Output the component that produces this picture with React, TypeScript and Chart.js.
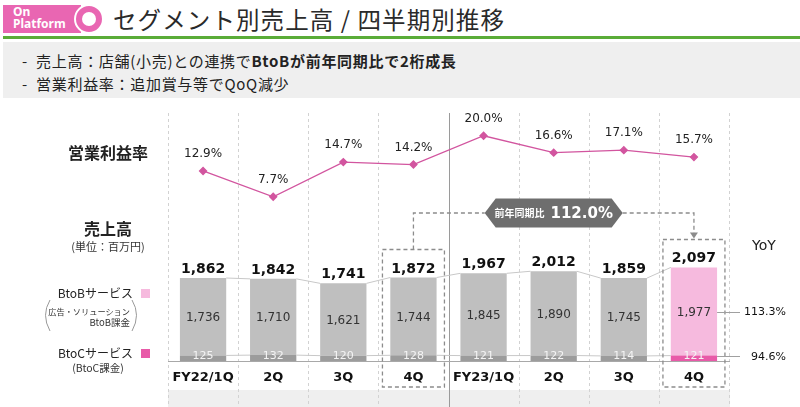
import React, { useEffect, useRef } from 'react';
import { Chart, registerables } from 'chart.js';
Chart.register(...registerables);

const categories = ['FY22/1Q', '2Q', '3Q', '4Q', 'FY23/1Q', '2Q', '3Q', '4Q'];
const btobValues = [1736, 1710, 1621, 1744, 1845, 1890, 1745, 1977];
const btocValues = [125, 132, 120, 128, 121, 122, 114, 121];
const totalValues = [1862, 1842, 1741, 1872, 1967, 2012, 1859, 2097];
const marginValues = [12.9, 7.7, 14.7, 14.2, 20.0, 16.6, 17.1, 15.7];
const yoyBtoB = '113.3%';
const yoyBtoC = '94.6%';
const yoyTotal = '112.0%';
const yoyTotalCaption = '前年同期比';

const NUM_FONT = '"DejaVu Sans", Verdana, sans-serif';
const JP_FONT = '"Noto Sans CJK JP", "Noto Sans", sans-serif';
const PINK_LIGHT = '#f6bade';
const PINK_DARK = '#e85aa8';
const GRAY_LIGHT = '#bfbfbf';
const GRAY_DARK = '#9c9c9c';

const fmt = (n: number) => n.toLocaleString('en-US');

const overlayPlugin = {
  id: 'overlay',
  beforeDatasetsDraw(chart: any) {
    const { ctx, chartArea } = chart;
    const { left, right, top } = chartArea;
    const n = categories.length;
    const step = (right - left) / n;
    ctx.save();
    ctx.fillStyle = '#efefef';
    ctx.fillRect(left, 390, right - left + 1, chart.height - 390);
    for (let k = 0; k <= n; k++) {
      const gx = Math.round(left + k * step) + 0.5;
      ctx.beginPath();
      if (k === 4) {
        ctx.setLineDash([]);
        ctx.strokeStyle = '#9a9a9a';
      } else {
        ctx.setLineDash([3, 3]);
        ctx.strokeStyle = '#d2d2d2';
      }
      ctx.lineWidth = 1;
      ctx.moveTo(gx, top + 8);
      ctx.lineTo(gx, chart.height);
      ctx.stroke();
    }
    ctx.setLineDash([]);
    ctx.restore();
  },
  afterDatasetsDraw(chart: any) {
    const { ctx, chartArea } = chart;
    const { left, right, bottom } = chartArea;
    const btoc = chart.getDatasetMeta(0).data;
    const btob = chart.getDatasetMeta(1).data;
    const line = chart.getDatasetMeta(2).data;
    const yScale = chart.scales.y;
    ctx.save();

    // baseline
    ctx.strokeStyle = '#a8a8a8';
    ctx.lineWidth = 1;
    ctx.beginPath();
    ctx.moveTo(left, Math.round(bottom) + 0.5);
    ctx.lineTo(right + 1, Math.round(bottom) + 0.5);
    ctx.stroke();

    // connectors between bars
    ctx.strokeStyle = '#c8c8c8';
    ctx.lineWidth = 1;
    for (let i = 0; i < btob.length - 1; i++) {
      const a = btob[i], b = btob[i + 1];
      ctx.beginPath();
      ctx.moveTo(a.x + a.width / 2, a.y);
      ctx.lineTo(b.x - b.width / 2, b.y);
      ctx.stroke();
      const c = btoc[i], d = btoc[i + 1];
      ctx.beginPath();
      ctx.moveTo(c.x + c.width / 2, c.y);
      ctx.lineTo(d.x - d.width / 2, d.y);
      ctx.stroke();
    }

    ctx.textAlign = 'center';
    // totals
    ctx.fillStyle = '#111';
    ctx.font = `bold 14px ${NUM_FONT}`;
    ctx.textBaseline = 'alphabetic';
    btob.forEach((el: any, i: number) => {
      const ty = yScale.getPixelForValue(totalValues[i]);
      ctx.fillText(fmt(totalValues[i]), el.x, ty - 5);
    });
    // BtoB values
    ctx.font = `12px ${NUM_FONT}`;
    ctx.fillStyle = '#333';
    ctx.textBaseline = 'middle';
    btob.forEach((el: any, i: number) => {
      ctx.fillText(fmt(btobValues[i]), el.x, (el.y + el.base) / 2 + 1);
    });
    // BtoC values
    ctx.font = `11px ${NUM_FONT}`;
    ctx.fillStyle = '#f4f4f4';
    btoc.forEach((el: any, i: number) => {
      ctx.fillText(fmt(btocValues[i]), el.x, bottom - 5);
    });
    // margin labels
    ctx.font = `12px ${NUM_FONT}`;
    ctx.fillStyle = '#222';
    line.forEach((pt: any, i: number) => {
      ctx.fillText(marginValues[i].toFixed(1) + '%', pt.x, pt.y - 17);
    });

    // dashed boxes
    ctx.strokeStyle = '#8c8c8c';
    ctx.lineWidth = 1.3;
    ctx.setLineDash([4, 3]);
    const boxTop = (i: number) => yScale.getPixelForValue(totalValues[i]) - 28;
    [3, 7].forEach((i) => {
      const el = btob[i];
      ctx.strokeRect(el.x - 31, boxTop(i), 62, 387 - boxTop(i));
    });
    // connector path
    const hx = btob[5].x;
    const hy = 213;
    const hw = 138, hh = 29;
    ctx.beginPath();
    ctx.moveTo(btob[3].x, boxTop(3));
    ctx.lineTo(btob[3].x, hy);
    ctx.lineTo(hx - hw / 2, hy);
    ctx.moveTo(hx + hw / 2, hy);
    ctx.lineTo(btob[7].x, hy);
    ctx.lineTo(btob[7].x, boxTop(7) - 6);
    ctx.stroke();
    ctx.setLineDash([]);
    // arrow head
    ctx.fillStyle = '#8c8c8c';
    ctx.beginPath();
    ctx.moveTo(btob[7].x - 4, boxTop(7) - 7);
    ctx.lineTo(btob[7].x + 4, boxTop(7) - 7);
    ctx.lineTo(btob[7].x, boxTop(7) - 1);
    ctx.closePath();
    ctx.fill();

    // hexagon
    ctx.fillStyle = '#6e6e6e';
    ctx.beginPath();
    ctx.moveTo(hx - hw / 2, hy);
    ctx.lineTo(hx - hw / 2 + 11, hy - hh / 2);
    ctx.lineTo(hx + hw / 2 - 11, hy - hh / 2);
    ctx.lineTo(hx + hw / 2, hy);
    ctx.lineTo(hx + hw / 2 - 11, hy + hh / 2);
    ctx.lineTo(hx - hw / 2 + 11, hy + hh / 2);
    ctx.closePath();
    ctx.fill();
    ctx.fillStyle = '#fff';
    ctx.textBaseline = 'middle';
    ctx.textAlign = 'left';
    ctx.font = `bold 10px ${JP_FONT}`;
    const capW = ctx.measureText(yoyTotalCaption).width;
    ctx.font = `bold 15px ${NUM_FONT}`;
    const valW = ctx.measureText(yoyTotal).width;
    const gap = 6;
    const sx = hx - (capW + gap + valW) / 2;
    ctx.font = `bold 10px ${JP_FONT}`;
    ctx.fillText(yoyTotalCaption, sx, hy);
    ctx.font = `bold 15px ${NUM_FONT}`;
    ctx.fillText(yoyTotal, sx + capW + gap, hy + 1);

    // YoY lines and labels
    const last = btob[7];
    const lastC = btoc[7];
    ctx.strokeStyle = '#a0a0a0';
    ctx.lineWidth = 1;
    const yb = Math.round((last.y + last.base) / 2) + 0.5;
    const yc = Math.round(lastC.y) + 0.5;
    ctx.beginPath();
    ctx.moveTo(last.x + last.width / 2, yb);
    ctx.lineTo(740, yb);
    ctx.moveTo(last.x + last.width / 2, yc);
    ctx.lineTo(740, yc);
    ctx.stroke();
    ctx.fillStyle = '#111';
    ctx.textAlign = 'right';
    ctx.font = `11px ${NUM_FONT}`;
    ctx.fillText(yoyBtoB, 786, yb);
    ctx.fillText(yoyBtoC, 786, yc + 1);
    ctx.textAlign = 'center';
    ctx.font = `14px ${NUM_FONT}`;
    ctx.fillStyle = '#222';
    ctx.fillText('YoY', 764, 246);
    ctx.restore();
  },
};

function ChartCanvas() {
  const ref = useRef<HTMLCanvasElement | null>(null);
  useEffect(() => {
    document.body.style.margin = '0';
    if (!ref.current) return;
    const chart = new Chart(ref.current, {
      type: 'bar',
      data: {
        labels: categories,
        datasets: [
          {
            type: 'bar',
            label: 'BtoCサービス',
            data: btocValues,
            backgroundColor: categories.map((_, i) => (i === categories.length - 1 ? PINK_DARK : GRAY_DARK)),
            stack: 's',
            yAxisID: 'y',
            categoryPercentage: 1,
            barPercentage: 0.66,
            order: 2,
          },
          {
            type: 'bar',
            label: 'BtoBサービス',
            data: btobValues,
            backgroundColor: categories.map((_, i) => (i === categories.length - 1 ? PINK_LIGHT : GRAY_LIGHT)),
            stack: 's',
            yAxisID: 'y',
            categoryPercentage: 1,
            barPercentage: 0.66,
            order: 2,
          },
          {
            type: 'line',
            label: '営業利益率',
            data: marginValues,
            yAxisID: 'y2',
            borderColor: '#d2559f',
            backgroundColor: '#d2559f',
            borderWidth: 1.3,
            pointStyle: 'rectRot',
            pointRadius: 3.5,
            tension: 0,
            order: 0,
          },
        ],
      },
      options: {
        responsive: false,
        devicePixelRatio: 1,
        animation: false,
        layout: { padding: { left: 168, right: 71, top: 105, bottom: 0 } },
        plugins: { legend: { display: false }, tooltip: { enabled: false } },
        scales: {
          x: {
            stacked: true,
            grid: { display: false, drawTicks: false },
            border: { display: false },
            ticks: { color: '#111', font: { family: NUM_FONT, size: 13, weight: 'bold' }, padding: 9 },
            afterFit: (s: any) => { s.height = 46; },
          },
          y: { stacked: true, display: false, min: 0, max: 5740 },
          y2: { display: false, min: -25.4, max: 26.2 },
        },
      },
      plugins: [overlayPlugin],
    } as any);
    return () => chart.destroy();
  }, []);
  return <canvas ref={ref} width={800} height={407} style={{ position: 'absolute', left: 0, top: 0 }} />;
}

const abs = (style: React.CSSProperties): React.CSSProperties => ({ position: 'absolute', whiteSpace: 'nowrap', ...style });

export default function App() {
  return (
    <div style={{ position: 'fixed', left: 0, top: 0, width: 800, height: 407, background: '#fff', overflow: 'hidden', fontFamily: JP_FONT, color: '#222' }}>
      {/* header */}
      <div style={abs({ left: 3, top: 5, width: 78, height: 28, background: '#e966b2' })} />
      <div style={abs({ left: 13, top: 6, fontSize: 12, fontWeight: 700, color: '#fff', lineHeight: '12px', fontFamily: '"Noto Sans", sans-serif' })}>On<br />Platform</div>
      <div style={abs({ left: 74, top: 4, width: 26, height: 26, borderRadius: '50%', background: '#e966b2', border: '2px solid #fff' })} />
      <div style={abs({ left: 82, top: 12, width: 14, height: 14, borderRadius: '50%', background: '#fff' })} />
      <div style={abs({ left: 113, top: 20, transform: 'translateY(-50%)', fontSize: 23.5, letterSpacing: 1.1, lineHeight: 1, color: '#2a2a2a' })}>セグメント別売上高&nbsp;/&nbsp;四半期別推移</div>
      <div style={abs({ left: 3, right: 0, top: 36, height: 3, background: '#5aac38' })} />
      <div style={abs({ left: 3, right: 0, top: 42, height: 56, background: '#efefef' })} />
      <div style={abs({ left: 22, top: 60, transform: 'translateY(-50%)', fontSize: 15, letterSpacing: 0.7, lineHeight: 1, color: '#222' })}>
        -&nbsp;&nbsp;売上高：店舗(小売)との連携で<b>BtoBが前年同期比で2桁成長</b>
      </div>
      <div style={abs({ left: 22, top: 83, transform: 'translateY(-50%)', fontSize: 15, letterSpacing: 0.7, lineHeight: 1, color: '#222' })}>
        -&nbsp;&nbsp;営業利益率：追加賞与等でQoQ減少
      </div>

      <ChartCanvas />

      {/* left labels */}
      <div style={abs({ right: 800 - 148, top: 152, transform: 'translateY(-50%)', fontSize: 16, fontWeight: 700, lineHeight: 1 })}>営業利益率</div>
      <div style={abs({ left: 108, top: 228, transform: 'translate(-50%,-50%)', fontSize: 16, fontWeight: 700, lineHeight: 1 })}>売上高</div>
      <div style={abs({ left: 108, top: 246, transform: 'translate(-50%,-50%)', fontSize: 11, lineHeight: 1, color: '#333' })}>(単位：百万円)</div>
      <div style={abs({ right: 800 - 133, top: 293, transform: 'translateY(-50%)', fontSize: 12, lineHeight: 1, color: '#222' })}>BtoBサービス</div>
      <div style={abs({ left: 141, top: 289, width: 9, height: 9, background: PINK_LIGHT })} />
      <div style={abs({ right: 800 - 130, top: 311, transform: 'translateY(-50%)', fontSize: 8.2, lineHeight: 1, color: '#333' })}>広告・ソリューション</div>
      <div style={abs({ right: 800 - 130, top: 323, transform: 'translateY(-50%)', fontSize: 9.5, lineHeight: 1, color: '#333' })}>BtoB課金</div>
      <svg style={abs({ left: 40, top: 298, width: 100, height: 36 })} width={100} height={36}>
        <path d="M 10 2 Q 1 17 10 33" stroke="#999" strokeWidth={1} fill="none" />
        <path d="M 92 2 Q 101 17 92 33" stroke="#999" strokeWidth={1} fill="none" />
      </svg>
      <div style={abs({ right: 800 - 133, top: 353, transform: 'translateY(-50%)', fontSize: 12, lineHeight: 1, color: '#222' })}>BtoCサービス</div>
      <div style={abs({ left: 141, top: 349, width: 9, height: 9, background: PINK_DARK })} />
      <div style={abs({ left: 98, top: 368, transform: 'translate(-50%,-50%)', fontSize: 10.5, lineHeight: 1, color: '#333' })}>(BtoC課金)</div>
    </div>
  );
}
